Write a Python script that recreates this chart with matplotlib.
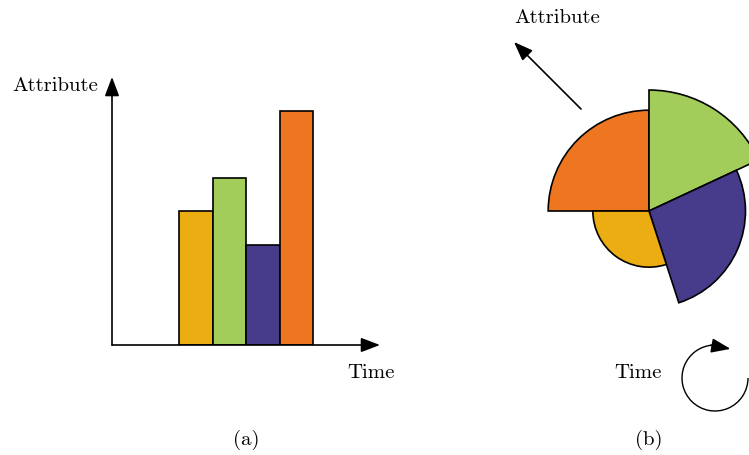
import numpy as np
import matplotlib
matplotlib.use('Agg')
import matplotlib.pyplot as plt
from matplotlib.patches import Arc

# (a) bar chart: one bar per time step
bar_pos = [2, 3, 4, 5]
bar_vals = [4, 5, 3, 7]
bar_colors = ['#ECAD13', '#A2CD5A', '#473C8B', '#EE7621']

# (b) radial chart: clockwise from west, angular span (deg) and radius
wedge_spans = [90, 65, 97, 108]
wedge_radii = [7.0, 8.4, 6.7, 3.9]
wedge_colors = ['#EE7621', '#A2CD5A', '#473C8B', '#ECAD13']

W, H = 749, 456
fig = plt.figure(figsize=(W / 100, H / 100), dpi=100)
font = dict(family='cmr10', size=15, color='black')
head = dict(arrowstyle='-|>,head_length=0.58,head_width=0.22', mutation_scale=20,
            lw=1.2, color='black', shrinkA=0, shrinkB=0)

# left panel
ax = fig.add_axes([112 / W, 110 / H, 268 / W, 268 / H])
ax.bar(bar_pos, bar_vals, width=1, align='edge', color=bar_colors,
       edgecolor='black', linewidth=1.2, zorder=2)
ax.set_xlim(0, 8)
ax.set_ylim(0, 8)
ax.axis('off')
ax.annotate('', xy=(8, 0), xytext=(0, 0), arrowprops=head, annotation_clip=False)
ax.annotate('', xy=(0, 8), xytext=(0, 0), arrowprops=head, annotation_clip=False)

# right panel
pax = fig.add_axes([(649 - 130) / W, (H - 212 - 130) / H, 260 / W, 260 / H],
                   projection='polar')
pax.set_theta_zero_location('W')
pax.set_theta_direction(-1)
starts = np.deg2rad(np.concatenate([[0], np.cumsum(wedge_spans)[:-1]]))
pax.bar(starts, wedge_radii, width=np.deg2rad(wedge_spans), align='edge',
        color=wedge_colors, edgecolor='black', linewidth=1.2)
pax.set_rlim(0, 130 / 14.4)
pax.axis('off')
for p in pax.patches:
    p.set_clip_on(False)

# overlay in pixel coordinates for labels and decorations
ov = fig.add_axes([0, 0, 1, 1], zorder=5)
ov.set_xlim(0, W)
ov.set_ylim(H, 0)
ov.axis('off')
ov.patch.set_alpha(0)

ov.text(55, 86, 'Attribute', ha='center', va='center', **font)
ov.text(371, 373, 'Time', ha='center', va='center', **font)
ov.text(557, 18, 'Attribute', ha='center', va='center', **font)
ov.text(638, 373, 'Time', ha='center', va='center', **font)
ov.text(246, 440, '(a)', ha='center', va='center', **font)
ov.text(649, 440, '(b)', ha='center', va='center', **font)

ov.annotate('', xy=(514, 43), xytext=(581, 110), arrowprops=head)

# time circle (clockwise); y axis is inverted so angles run clockwise on screen
cx, cy, r = 715, 379, 33
ov.add_patch(Arc((cx, cy), 2 * r, 2 * r, theta1=0, theta2=268, lw=1.0, color='black'))
a0, a1 = np.deg2rad(262), np.deg2rad(298)
ov.annotate('', xy=(cx + r * np.cos(a1), cy + r * np.sin(a1)),
            xytext=(cx + r * np.cos(a0), cy + r * np.sin(a0)), arrowprops=head)

fig.savefig('out.png', dpi=100, facecolor='white')
